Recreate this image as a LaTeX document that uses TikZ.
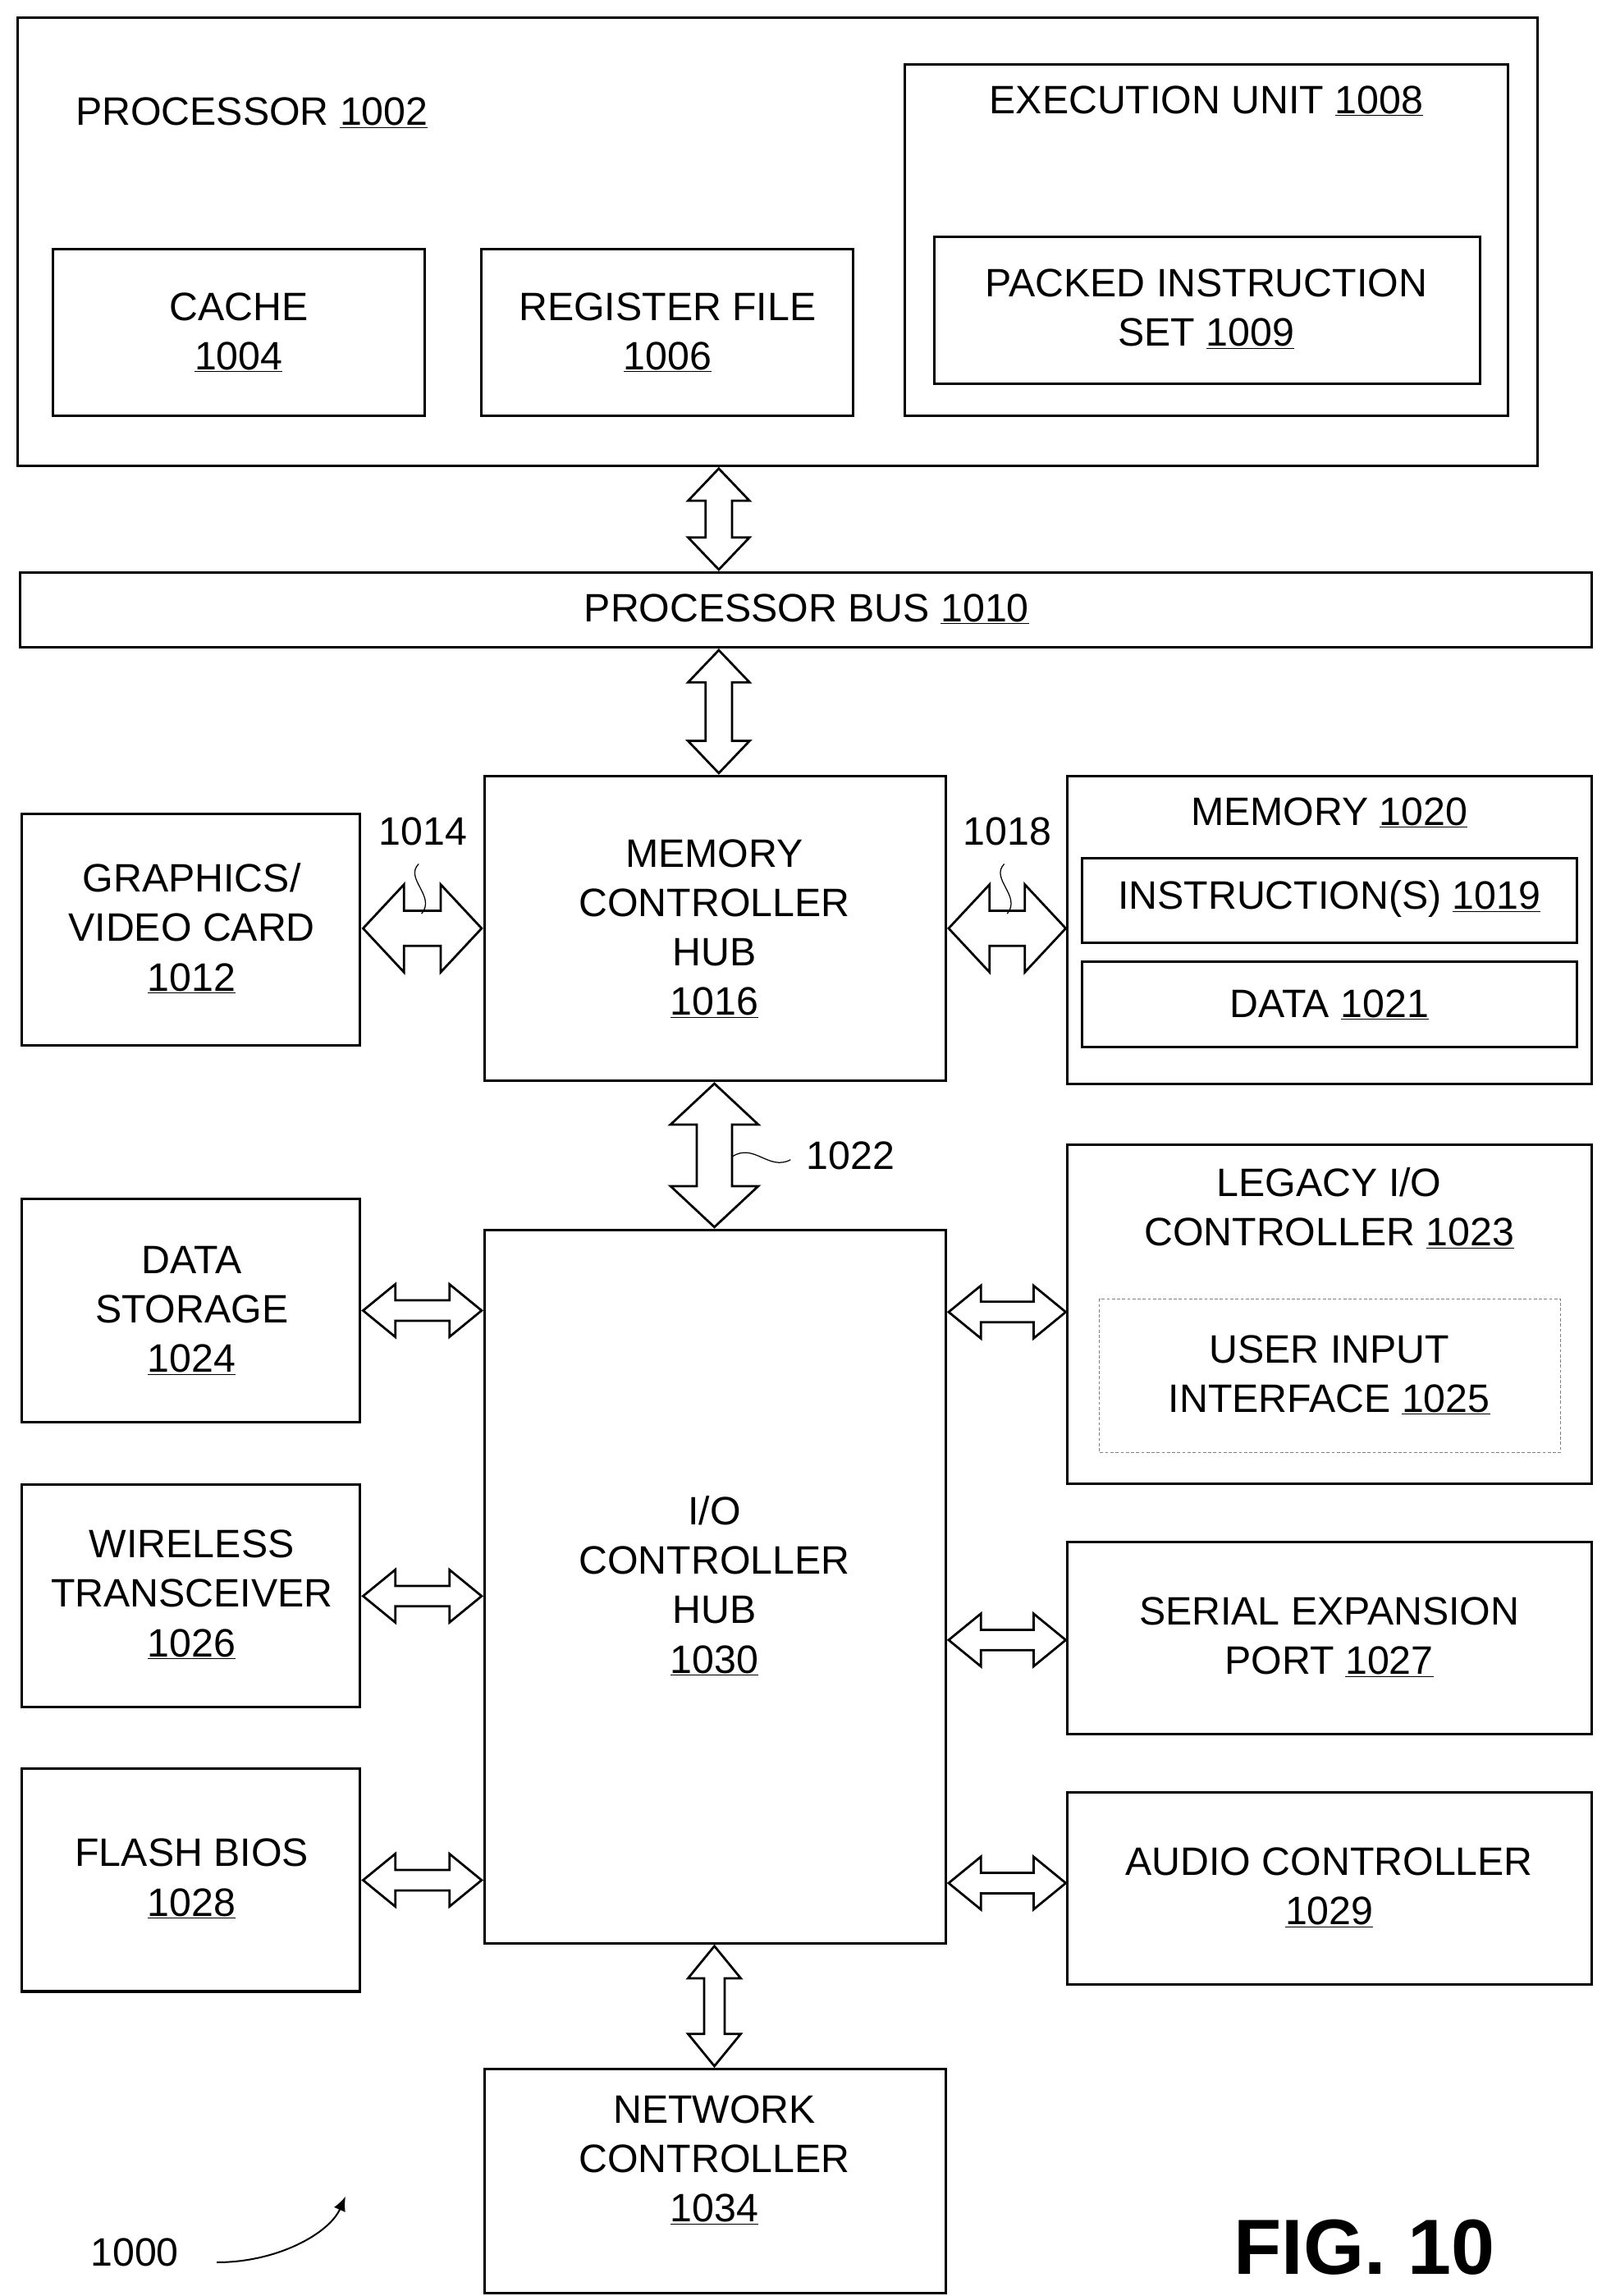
\documentclass[tikz,border=0pt]{standalone}
\usepackage{fontspec}
\setmainfont{Liberation Sans}
\usetikzlibrary{arrows.meta}
\newcommand{\U}[1]{\underline{#1}}
\newcommand{\myVarrow}[7]{%
 \draw[blk] (#1-#4,#2+#6) -- (#1-#5,#2+#6) -- (#1,#2) -- (#1+#5,#2+#6) -- (#1+#4,#2+#6)
 -- (#1+#4,#3-#6) -- (#1+#5,#3-#6) -- (#1,#3) -- (#1-#5,#3-#6) -- (#1-#4,#3-#6) -- cycle;}
\newcommand{\myHarrow}[7]{%
 \draw[blk] (#2+#6,#1-#4) -- (#2+#6,#1-#5) -- (#2,#1) -- (#2+#6,#1+#5) -- (#2+#6,#1+#4)
 -- (#3-#6,#1+#4) -- (#3-#6,#1+#5) -- (#3,#1) -- (#3-#6,#1-#5) -- (#3-#6,#1-#4) -- cycle;}
\begin{document}
\begin{tikzpicture}[x=0.05cm,y=-0.05cm,
 box/.style={draw,line width=2.4pt},
 blk/.style={draw,line width=2.2pt,fill=white,line join=miter},
 t/.style={font=\fontsize{38.5}{48}\selectfont,align=center,inner sep=0pt}]
\useasboundingbox[fill=white] (0,0) rectangle (1100,1568);
\draw[box] (12,12) rectangle (1050,318);
\node[t] (procl) at (172,77) {PROCESSOR \U{1002}};
\draw[box] (36,170) rectangle (290,284); \node[t] (cache) at (163,227) {CACHE\\\U{1004}};
\draw[box] (329,170) rectangle (583,284); \node[t] (reg) at (456,227) {REGISTER FILE\\\U{1006}};
\draw[box] (618,44) rectangle (1030,284); \node[t] (exe) at (824,69) {EXECUTION UNIT \U{1008}};
\draw[box] (638,162) rectangle (1011,262); \node[t] (pis) at (824,211) {PACKED INSTRUCTION\\SET \U{1009}};
\draw[box] (14,391) rectangle (1087,442); \node[t] (bus) at (551,416) {PROCESSOR BUS \U{1010}};
\draw[box] (331,530) rectangle (646,738); \node[t] (mch) at (488,634) {MEMORY\\CONTROLLER\\HUB\\\U{1016}};
\draw[box] (15,556) rectangle (246,714); \node[t] (gfx) at (131,634) {GRAPHICS/\\VIDEO CARD\\\U{1012}};
\draw[box] (729,530) rectangle (1087,740); \node[t] (mem) at (908,555) {MEMORY \U{1020}};
\draw[box] (739,586) rectangle (1077,644); \node[t] (ins) at (908,614) {INSTRUCTION(S) \U{1019}};
\draw[box] (739,657) rectangle (1077,715); \node[t] (dat) at (908,686) {DATA \U{1021}};
\draw[box] (331,840) rectangle (646,1327); \node[t] (ioch) at (488,1083) {I/O\\CONTROLLER\\HUB\\\U{1030}};
\draw[box] (15,819) rectangle (246,971); \node[t] (ds) at (131,895) {DATA\\STORAGE\\\U{1024}};
\draw[box] (15,1014) rectangle (246,1166); \node[t] (wt) at (131,1089) {WIRELESS\\TRANSCEIVER\\\U{1026}};
\draw[box] (15,1208) rectangle (246,1360); \node[t] (fb) at (131,1283) {FLASH BIOS\\\U{1028}};
\draw[box] (729,782) rectangle (1087,1013); \node[t] (leg) at (908,825) {LEGACY I/O\\CONTROLLER \U{1023}};
\draw[gray,line width=1pt,dash pattern=on 3pt off 2pt] (751,887) rectangle (1066,992);
\node[t] (uii) at (908,939) {USER INPUT\\INTERFACE \U{1025}};
\draw[box] (729,1053) rectangle (1087,1184); \node[t] (sep) at (908,1118) {SERIAL EXPANSION\\PORT \U{1027}};
\draw[box] (729,1224) rectangle (1087,1355); \node[t] (aud) at (908,1289) {AUDIO CONTROLLER\\\U{1029}};
\draw[box] (331,1413) rectangle (646,1566); \node[t] (net) at (488,1475) {NETWORK\\CONTROLLER\\\U{1034}};
\myVarrow{491}{320}{389}{9}{21}{22}{}
\myVarrow{491}{444}{528}{9}{21}{22}{}
\myHarrow{634}{248}{329}{12}{30}{28}{}
\myHarrow{634}{648}{728}{12}{30}{28}{}
\myVarrow{488}{740}{838}{12}{30}{28}{}
\myHarrow{895}{248}{329}{7}{18}{22}{}
\myHarrow{1090}{248}{329}{7}{18}{22}{}
\myHarrow{1284}{248}{329}{7}{18}{22}{}
\myHarrow{896}{648}{728}{7}{18}{22}{}
\myHarrow{1120}{648}{728}{7}{18}{22}{}
\myHarrow{1286}{648}{728}{7}{18}{22}{}
\myVarrow{488}{1329}{1411}{7}{18}{22}{}
\node[t] (l1014) at (289,568) {1014};
\draw[line width=1pt] (286,590) .. controls (276,600) and (298,612) .. (288,624);
\node[t] (l1018) at (688,568) {1018};
\draw[line width=1pt] (686,590) .. controls (676,600) and (698,612) .. (688,624);
\node[t] (l1022) at (581,789) {1022};
\draw[line width=1pt] (500,790) .. controls (515,780) and (525,800) .. (540,792);
\node[t] (l1000) at (92,1538) {1000};
\coordinate (a0) at (148,1545); \coordinate (a1) at (236,1500);
\draw[line width=1.6pt,-{Latex[length=14pt,width=12pt]}] (a0) .. controls (190,1545) and (225,1525) .. (a1);
\node[inner sep=0pt,font=\fontsize{76}{80}\selectfont\bfseries] (fig) at (932,1535) {FIG. 10};
\end{tikzpicture}
\end{document}
